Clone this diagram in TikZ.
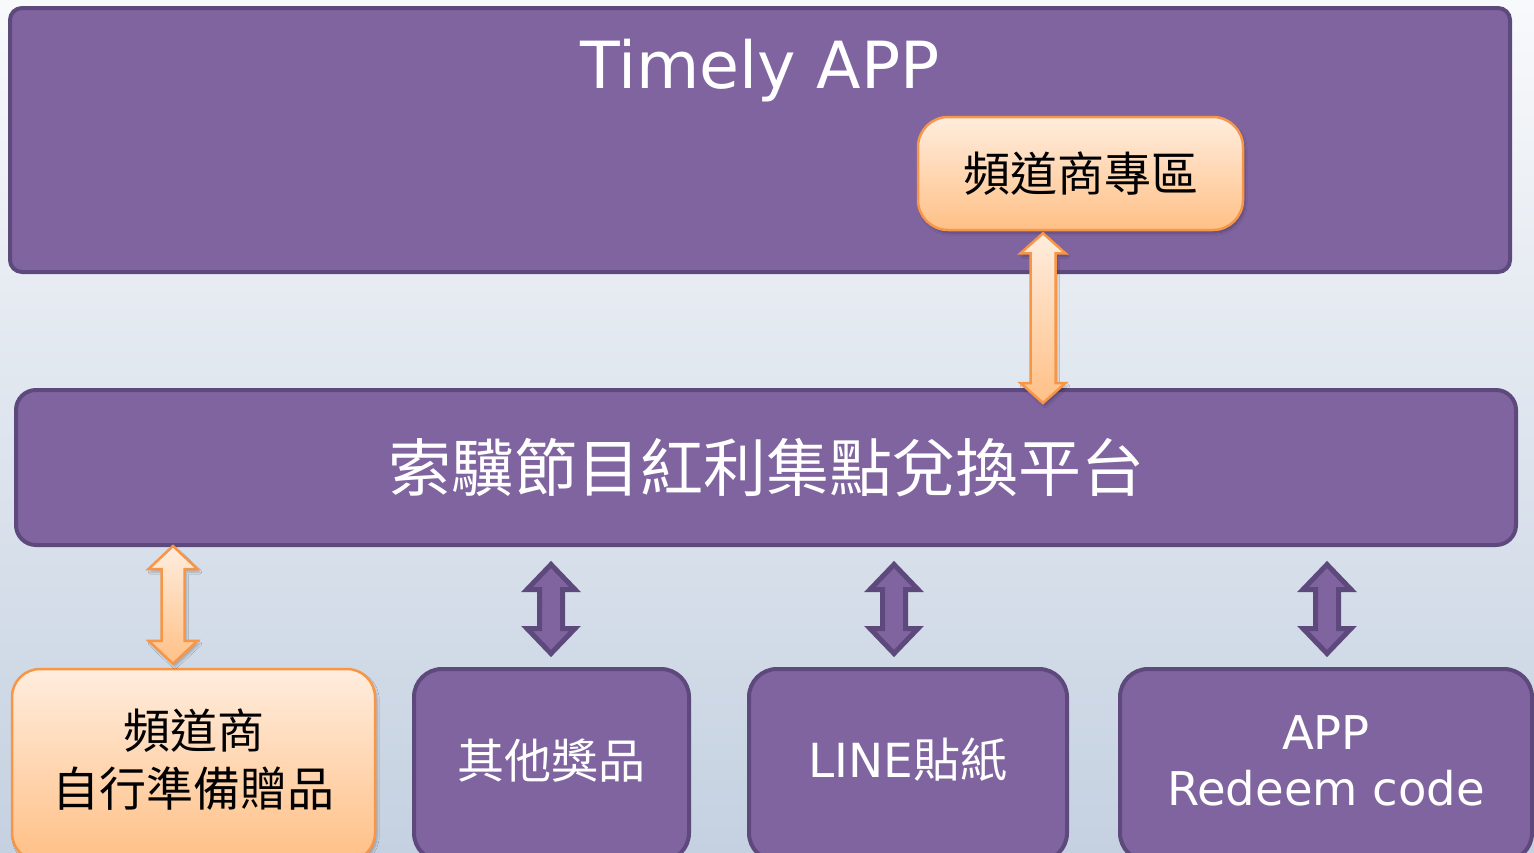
\documentclass[tikz,border=0pt]{standalone}
\usepackage{fontspec}
\setmainfont{DejaVu Sans}
\newfontfamily\cjk{Noto Sans CJK TC}
\usetikzlibrary{calc,shadows.blur}
\definecolor{bgTop}{RGB}{248,249,251}
\definecolor{bgBot}{RGB}{197,209,225}
\definecolor{pfill}{RGB}{128,100,160}
\definecolor{pline}{RGB}{93,73,124}
\definecolor{oTop}{RGB}{255,237,222}
\definecolor{oBot}{RGB}{255,192,134}
\definecolor{oline}{RGB}{247,150,70}
% vertical double arrow: #1 top, #2 bottom, #3 half shaft, #4 half head, #5 head length, #6 style
\newcommand\dblarr[6]{\path[#6] let \p1=(#1), \p2=(#2) in
  (\x1,\y1) -- (\x1+#4,\y1-#5) -- (\x1+#3,\y1-#5) -- (\x1+#3,\y2+#5) -- (\x1+#4,\y2+#5)
  -- (\x1,\y2) -- (\x1-#4,\y2+#5) -- (\x1-#3,\y2+#5) -- (\x1-#3,\y1-#5) -- (\x1-#4,\y1-#5) -- cycle;}
\begin{document}
\begin{tikzpicture}[x=1pt,y=-1pt,
  pbox/.style={draw=pline, fill=pfill, line width=4pt, text=white, align=center},
  obox/.style={draw=oline, top color=oTop, bottom color=oBot, line width=2.5pt, text=black, align=center,
    blur shadow={shadow xshift=2pt, shadow yshift=-3pt, shadow blur steps=6, shadow opacity=25}},
  oarrow/.style={draw=oline, top color=oTop, bottom color=oBot, line width=2.5pt, line join=miter,
    blur shadow={shadow xshift=2pt, shadow yshift=-3pt, shadow blur steps=6, shadow opacity=25}},
  parrow/.style={draw=pline, fill=pfill, line width=5pt, line join=miter},
  cjkfont/.style={font=\cjk\fontsize{47}{58}\selectfont},
  latfont/.style={font=\fontsize{46.5}{56}\selectfont}]
\useasboundingbox (0,0) rectangle (1534,852);
\clip (0,0) rectangle (1534,852);
\fill[top color=bgTop,bottom color=bgBot] (0,0) rectangle (1534,852);

% top application box
\node[pbox, rounded corners=12pt, minimum width=1500pt, minimum height=264pt] (app) at (760,140) {};
\node[text=white, font=\fontsize{65}{70}\selectfont, anchor=base] (title) at (760,88) {Timely APP};
\node[obox, cjkfont, rounded corners=30pt, minimum width=325pt, minimum height=113pt] (zone) at (1080.5,173.5) {頻道商專區};

% platform
\node[pbox, rounded corners=20pt, minimum width=1500pt, minimum height=155pt,
  font=\cjk\fontsize{63}{70}\selectfont] (plat) at (766,467.5) {索驥節目紅利集點兌換平台};

% bottom boxes
\node[obox, cjkfont, text depth=14pt, rounded corners=28pt, minimum width=363pt, minimum height=192pt] (b1) at (193.5,765) {頻道商\\自行準備贈品};
\node[pbox, cjkfont, text depth=13pt, rounded corners=28pt, minimum width=275pt, minimum height=192pt] (b2) at (551.5,765) {其他獎品};
\node[pbox, font=\fontsize{47}{58}\selectfont, text depth=14pt, rounded corners=28pt, minimum width=318pt, minimum height=192pt] (b3) at (908,765) {LINE{\cjk 貼紙}};
\node[pbox, latfont, text depth=9pt, rounded corners=28pt, minimum width=412pt, minimum height=192pt] (b4) at (1326,765) {APP\\Redeem code};

% arrow axes
\coordinate (ax1) at (1043,0);
\coordinate (ax2) at (173,0);
\coordinate (ax3) at (551,0);
\coordinate (ax4) at (894,0);
\coordinate (ax5) at (1327,0);

% connectors
\dblarr{$(zone.south -| ax1)+(0,2)$}{$(plat.north -| ax1)+(0,15)$}{12.5pt}{22.5pt}{20pt}{oarrow}
\dblarr{$(plat.south -| ax2)+(0,-1)$}{$(b1.north -| ax2)+(0,-4)$}{11.5pt}{24.5pt}{23pt}{oarrow}
\dblarr{$(plat.south -| ax3)+(0,17.5)$}{$(b2.north -| ax3)+(0,-13.5)$}{11.5pt}{24pt}{25pt}{parrow}
\dblarr{$(plat.south -| ax4)+(0,17.5)$}{$(b3.north -| ax4)+(0,-13.5)$}{11.5pt}{24pt}{25pt}{parrow}
\dblarr{$(plat.south -| ax5)+(0,17.5)$}{$(b4.north -| ax5)+(0,-13.5)$}{11.5pt}{24pt}{25pt}{parrow}
\end{tikzpicture}
\end{document}
